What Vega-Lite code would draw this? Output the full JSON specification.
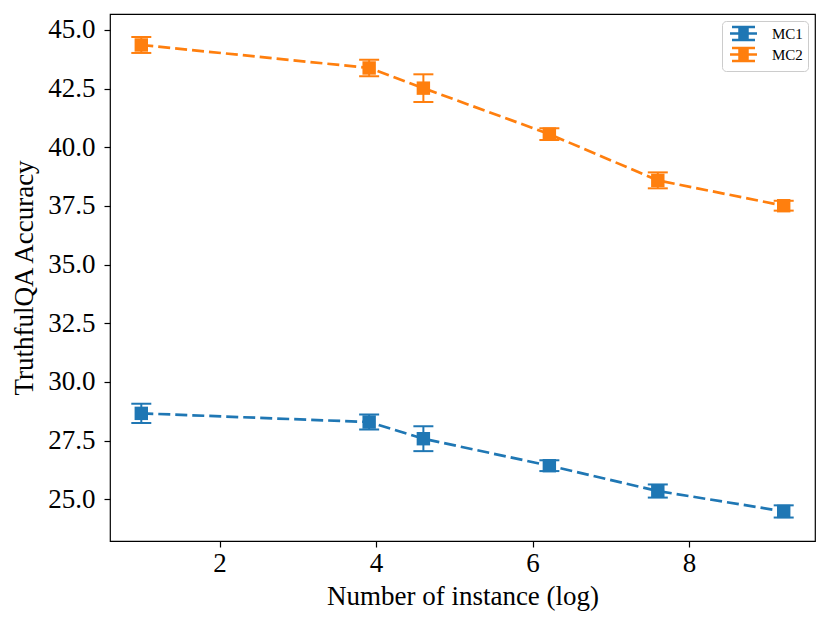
{
  "$schema": "https://vega.github.io/schema/vega-lite/v6.json",
  "width": 705,
  "height": 527,
  "autosize": {"type": "none"},
  "padding": {"left": 110, "top": 14, "right": 15, "bottom": 86},
  "background": "white",
  "config": {
    "font": "Liberation Serif",
    "view": {"stroke": "black", "strokeWidth": 1.2},
    "axis": {
      "labelFont": "Liberation Serif",
      "titleFont": "Liberation Serif",
      "labelFontSize": 27,
      "titleFontSize": 27,
      "titleFontWeight": "normal",
      "labelColor": "black",
      "titleColor": "black",
      "tickColor": "black",
      "domain": false,
      "grid": false,
      "tickSize": 6,
      "tickWidth": 1.2
    }
  },
  "data": {
    "values": [
      {"x": 1.0, "y": 44.36, "lo": 44.02, "hi": 44.70, "series": "MC2"},
      {"x": 3.912, "y": 43.38, "lo": 43.03, "hi": 43.73, "series": "MC2"},
      {"x": 4.605, "y": 42.52, "lo": 41.93, "hi": 43.11, "series": "MC2"},
      {"x": 6.215, "y": 40.56, "lo": 40.31, "hi": 40.81, "series": "MC2"},
      {"x": 7.601, "y": 38.59, "lo": 38.25, "hi": 38.93, "series": "MC2"},
      {"x": 9.21, "y": 37.51, "lo": 37.30, "hi": 37.72, "series": "MC2"},
      {"x": 1.0, "y": 28.66, "lo": 28.25, "hi": 29.07, "series": "MC1"},
      {"x": 3.912, "y": 28.29, "lo": 27.97, "hi": 28.61, "series": "MC1"},
      {"x": 4.605, "y": 27.58, "lo": 27.05, "hi": 28.11, "series": "MC1"},
      {"x": 6.215, "y": 26.43, "lo": 26.20, "hi": 26.66, "series": "MC1"},
      {"x": 7.601, "y": 25.35, "lo": 25.07, "hi": 25.63, "series": "MC1"},
      {"x": 9.21, "y": 24.48, "lo": 24.22, "hi": 24.74, "series": "MC1"}
    ]
  },
  "encoding": {
    "x": {
      "field": "x", "type": "quantitative",
      "scale": {"domain": [0.6, 9.61], "nice": false, "zero": false},
      "axis": {"values": [2, 4, 6, 8], "title": "Number of instance (log)", "labelPadding": 3, "titlePadding": 7, "format": "d"}
    },
    "color": {
      "field": "series", "type": "nominal",
      "scale": {"domain": ["MC1", "MC2"], "range": ["#1f77b4", "#ff7f0e"]},
      "legend": {
        "title": null,
        "orient": "top-right",
        "offset": 7,
        "labelFont": "Liberation Serif",
        "labelFontSize": 15,
        "labelColor": "black",
        "symbolType": "M-2.7,0H2.7M-0.8,-0.8H0.8V0.8H-0.8ZM0,-1.3V1.3M-2.3,-1.3H2.3M-2.3,1.3H2.3",
        "symbolSize": 100,
        "symbolStrokeWidth": 2.5,
        "symbolOpacity": 1,
        "symbolOffset": 9,
        "labelOffset": 21,
        "strokeColor": "#cccccc",
        "fillColor": "white",
        "cornerRadius": 4,
        "padding": 5,
        "rowPadding": -2
      }
    }
  },
  "layer": [
    {
      "mark": {"type": "line", "strokeDash": [12, 5], "strokeWidth": 2.7},
      "encoding": {
        "y": {
          "field": "y", "type": "quantitative",
          "scale": {"domain": [23.22, 45.68], "nice": false, "zero": false},
          "axis": {"values": [25, 27.5, 30, 32.5, 35, 37.5, 40, 42.5, 45], "format": ".1f", "title": "TruthfulQA Accuracy", "labelPadding": 9, "titlePadding": 9}
        }
      }
    },
    {
      "mark": {"type": "rule", "strokeWidth": 2, "opacity": 1},
      "encoding": {"y": {"field": "lo", "type": "quantitative"}, "y2": {"field": "hi"}}
    },
    {
      "mark": {"type": "tick", "orient": "horizontal", "size": 20, "thickness": 2, "opacity": 1},
      "encoding": {"y": {"field": "lo", "type": "quantitative"}}
    },
    {
      "mark": {"type": "tick", "orient": "horizontal", "size": 20, "thickness": 2, "opacity": 1},
      "encoding": {"y": {"field": "hi", "type": "quantitative"}}
    },
    {
      "mark": {"type": "point", "shape": "square", "filled": true, "size": 180, "opacity": 1},
      "encoding": {"y": {"field": "y", "type": "quantitative"}}
    }
  ]
}
